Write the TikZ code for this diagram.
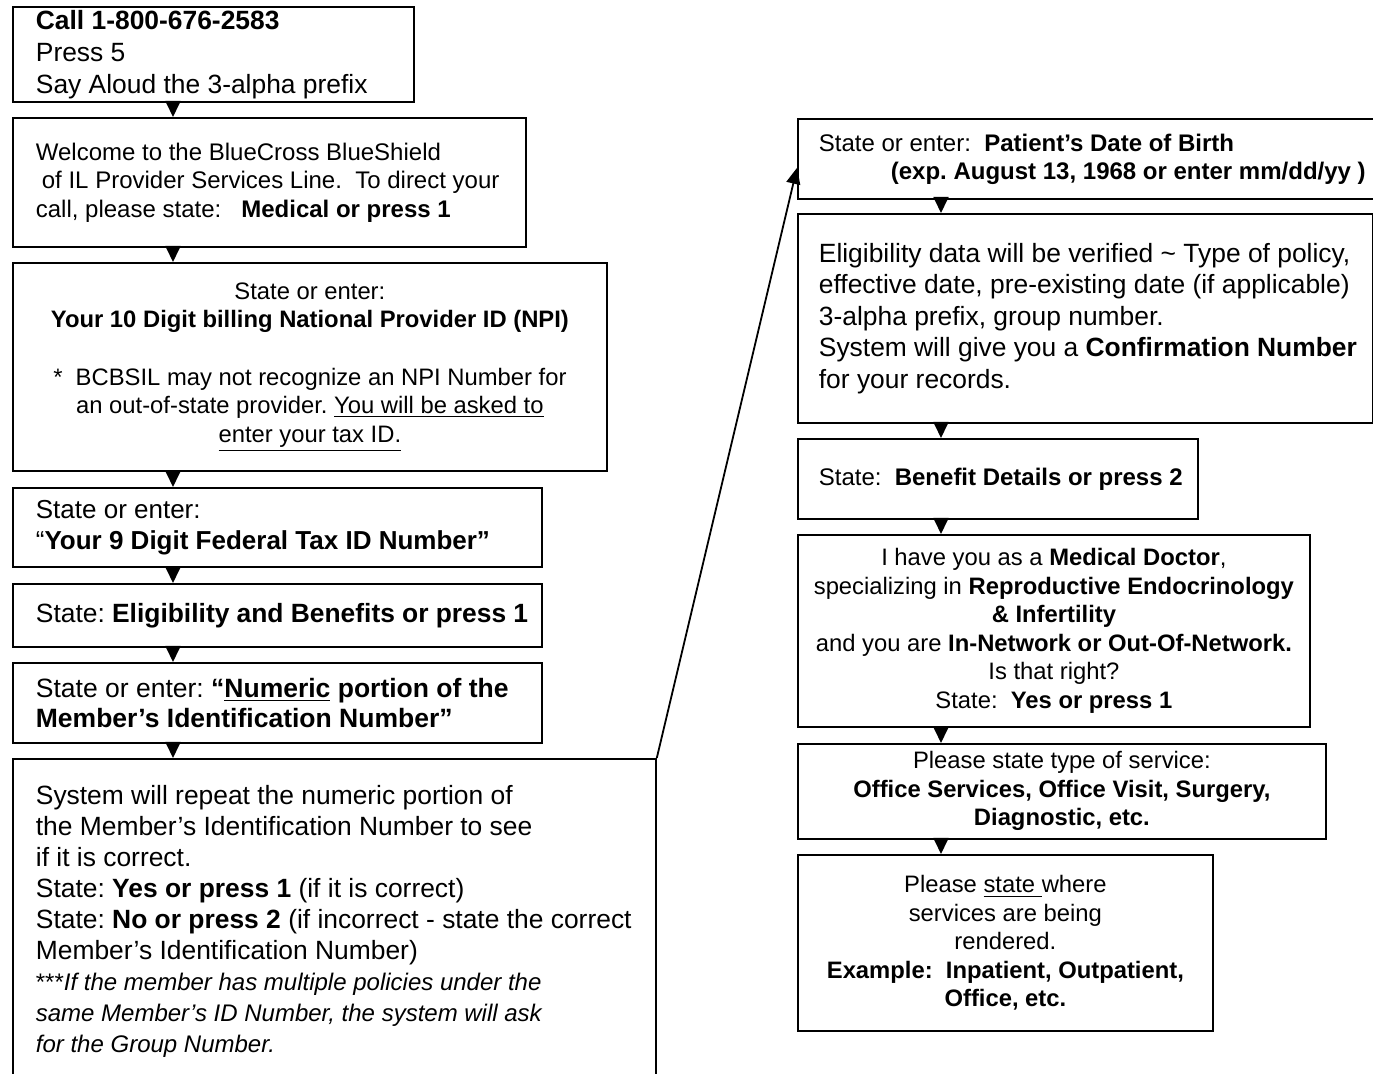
\documentclass[tikz,border=0pt]{standalone}
\usepackage{fontspec}
\setmainfont{Liberation Sans}
\usetikzlibrary{arrows.meta}
\frenchspacing

\newcommand{\smallnote}[1]{{\fontsize{12}{15.5}\selectfont #1}}

\begin{document}
\begin{tikzpicture}[x=0.5pt, y=-0.5pt,
    box/.style={draw, line width=0.9pt, anchor=north west, inner ysep=0pt},
    lbox/.style={box, align=flush left, inner xsep=11.5pt,
        execute at begin node={\rightskip=0pt plus 1fil minus 100pt}},
    rbox/.style={lbox, inner xsep=10.5pt},
    cbox/.style={box, align=flush center, inner xsep=4pt},
    flow/.style={-{Triangle[width=7.5pt, length=8pt]}, line width=0.9pt}]

    \useasboundingbox (0,0) rectangle (1373,1074);
    \clip (0,0) rectangle (1373,1074);

    \node[lbox, text width=177.5pt, minimum height=47.5pt, font=\fontsize{13.2}{16}\selectfont] (call) at (12,6) {
        \textbf{Call 1-800-676-2583}\\ Press 5\\ Say Aloud the 3-alpha prefix};
    \node[lbox, text width=233.5pt, minimum height=64.5pt, font=\fontsize{12}{14.25}\selectfont] (welcome) at (12,117) {
        Welcome to the BlueCross BlueShield\\
        \hspace*{3pt}of IL Provider Services Line.\ \ To direct your\\
        call, please state:\ \ \ \textbf{Medical or press 1}};
    \node[cbox, text width=289pt, minimum height=104pt, font=\fontsize{11.9}{14.3}\selectfont] (npi) at (12,262) {
        State or enter:\\ \textbf{Your 10 Digit billing National Provider ID (NPI)}\\[14.3pt]
        *\ \ BCBSIL may not recognize an NPI Number for\\
        an out-of-state provider. \underline{You will be asked to}\\
        \underline{enter your tax ID.}};
    \node[lbox, text width=241.5pt, minimum height=39.5pt, font=\fontsize{13}{15.5}\selectfont] (taxid) at (12,487) {
        State or enter:\\ “\textbf{Your 9 Digit Federal Tax ID Number”}};
    \node[lbox, text width=241.5pt, minimum height=31.5pt, font=\fontsize{13.2}{15}\selectfont] (elig) at (12,583) {
        State: \textbf{Eligibility and Benefits or press 1}};
    \node[lbox, text width=241.5pt, minimum height=40pt, font=\fontsize{13.25}{15}\selectfont] (numeric) at (12,662) {
        State or enter: \textbf{“\underline{Numeric} portion of the}\\
        \textbf{Member’s Identification Number”}};
    \node[lbox, text width=298.5pt, minimum height=163pt, font=\fontsize{13.2}{15.5}\selectfont] (repeat) at (12,758) {
        System will repeat the numeric portion of\\
        the Member’s Identification Number to see\\
        if it is correct.\\
        State: \textbf{Yes or press 1} (if it is correct)\\
        State: \textbf{No or press 2} (if incorrect - state the correct\\
        Member’s Identification Number)\\
        \smallnote{***\textit{If the member has multiple policies under the}}\\
        \smallnote{\textit{same Member’s ID Number, the system will ask}}\\
        \smallnote{\textit{for the Group Number.}}};

    \node[rbox, text width=280.5pt, minimum height=40pt, font=\fontsize{12}{14}\selectfont] (dob) at (797,118) {
        State or enter:\ \ \textbf{Patient’s Date of Birth}\\
        \hspace*{36pt}\textbf{(exp. August 13, 1968 or enter mm/dd/yy )}};
    \node[rbox, text width=266.5pt, minimum height=104.5pt, font=\fontsize{13.2}{15.75}\selectfont] (verify) at (797,213) {
        Eligibility data will be verified \textasciitilde{} Type of policy,\\
        effective date, pre-existing date (if applicable)\\
        3-alpha prefix, group number.\\
        System will give you a \textbf{Confirmation Number}\\
        for your records.};
    \node[rbox, text width=179pt, minimum height=40pt, font=\fontsize{12}{14}\selectfont] (benefit) at (797,438) {
        State:\ \ \textbf{Benefit Details or press 2}};
    \node[cbox, text width=248pt, minimum height=96pt, font=\fontsize{11.9}{14.3}\selectfont] (doctor) at (797,534) {
        I have you as a \textbf{Medical Doctor},\\
        specializing in \textbf{Reproductive Endocrinology}\\
        \textbf{\& Infertility}\\
        and you are \textbf{In-Network or Out-Of-Network.}\\
        Is that right?\\
        State:\ \ \textbf{Yes or press 1}};
    \node[cbox, text width=256pt, minimum height=47.5pt, font=\fontsize{11.9}{14.25}\selectfont] (service) at (797,743) {
        Please state type of service:\\
        \textbf{Office Services, Office Visit, Surgery,}\\
        \textbf{Diagnostic, etc.}};
    \node[cbox, text width=199.5pt, minimum height=88pt, font=\fontsize{11.9}{14.2}\selectfont] (place) at (797,854) {
        Please \underline{state\ }where\\
        services are being\\
        rendered.\\
        \textbf{Example:\ \ Inpatient, Outpatient,}\\
        \textbf{Office, etc.}};

    \coordinate (lcol) at (173,0);
    \coordinate (rcol) at (941,0);
    \foreach \a/\b in {call/welcome, welcome/npi, npi/taxid, taxid/elig, elig/numeric, numeric/repeat}
        \draw[flow] (\a.south -| lcol) -- (\b.north -| lcol);
    \foreach \a/\b in {dob/verify, verify/benefit, benefit/doctor, doctor/service, service/place}
        \draw[flow] (\a.south -| rcol) -- (\b.north -| rcol);

    \draw[-{Triangle[width=7pt, length=8pt]}, line width=0.9pt] (repeat.north east) -- ([yshift=-4.5pt]dob.west);

\end{tikzpicture}
\end{document}
